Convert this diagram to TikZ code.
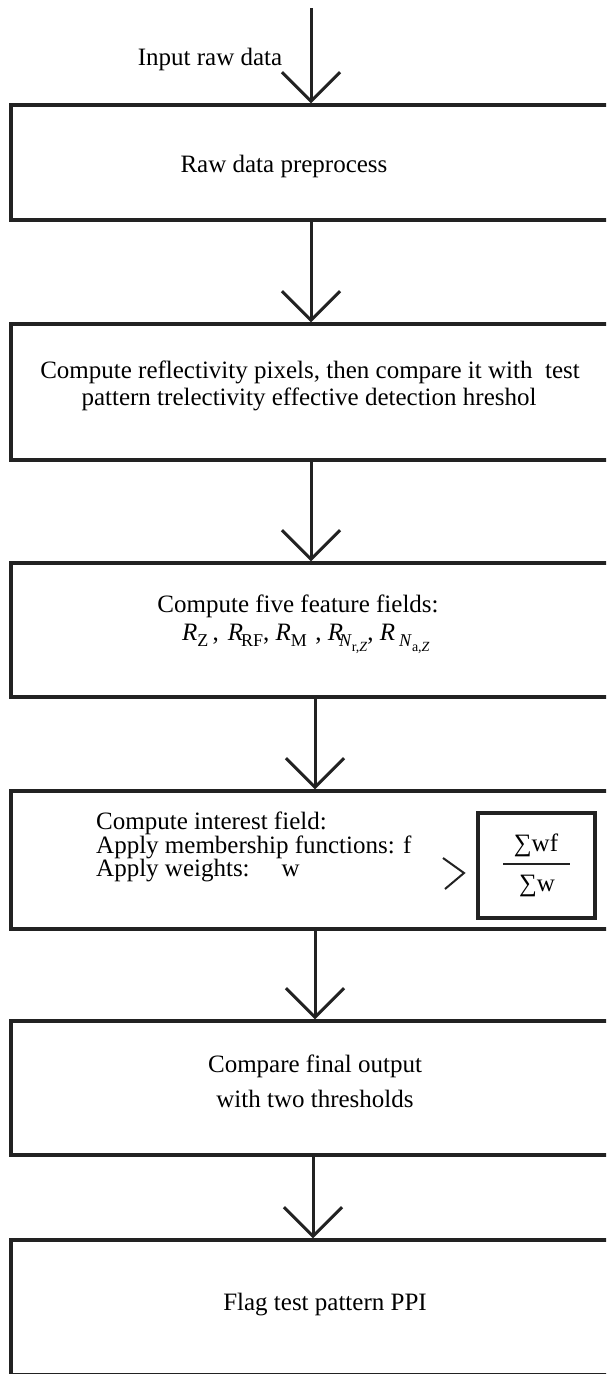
\documentclass[tikz,border=0pt]{standalone}
\usepackage{fontspec}
\setmainfont{Liberation Serif}
\usetikzlibrary{arrows.meta}
\definecolor{ln}{HTML}{222222}
\newcommand{\sbx}[1]{\raisebox{-6pt}{\fontsize{18}{18}\selectfont #1}}
\newcommand{\ssbx}[1]{\raisebox{-5pt}{\fontsize{14}{14}\selectfont #1}}
\tikzset{
  box/.style={draw=ln, line width=3.5pt, minimum width=600pt, inner sep=0pt},
  fracbox/.style={draw=ln, line width=3.5pt, minimum width=117pt, minimum height=105pt, inner sep=0pt},
  flow/.style={draw=ln, line width=3pt, -{Straight Barb[length=29pt,width=58pt]}},
  txt/.style={font=\fontsize{25}{28}\selectfont, inner sep=0pt, anchor=base, text=black},
  thin/.style={draw=ln, line width=2pt},
}
\begin{document}
\begin{tikzpicture}[x=1pt,y=-1pt]
\useasboundingbox (0,0) rectangle (606,1374);
\clip (0,0) rectangle (606,1374);
% boxes
\node[box, minimum height=115pt] (b1) at (311,162.5) {};
\node[box, minimum height=136pt] (b2) at (311,392) {};
\node[box, minimum height=134pt] (b3) at (311,630) {};
\node[box, minimum height=138pt] (b4) at (311,860) {};
\node[box, minimum height=134pt] (b5) at (311,1088) {};
\node[box, minimum height=135pt] (b6) at (311,1307.5) {};
% connectors
\coordinate (start) at (311,8);
\draw[flow] (start) -- (b1.north);
\draw[flow] (b1.south) -- (b2.north);
\draw[flow] (b2.south) -- (b3.north);
\draw[flow] ([xshift=4pt]b3.south) -- ([xshift=4pt]b4.north);
\draw[flow] ([xshift=4pt]b4.south) -- ([xshift=4pt]b5.north);
\draw[flow] ([xshift=2pt]b5.south) -- ([xshift=2pt]b6.north);
% texts
\node[txt] (t0) at (210,65) {Input raw data};
\node[txt] (t1) at (284,172) {Raw data preprocess};
\node[txt] (t2a) at (310,378) {Compute reflectivity pixels, then compare it with\ \ test};
\node[txt] (t2b) at (309,405) {pattern trelectivity effective detection hreshol};
\node[txt] (t3a) at (298,612) {Compute five feature fields:};
\node[txt, anchor=base west] (t3b) at (182,640) {\textit{R}\sbx{Z}\,,\hspace{9pt}\textit{R}\hspace{-2pt}\sbx{RF}, \textit{R}\sbx{M}\,\,, \textit{R}\hspace{-4pt}\sbx{\textit{N}\ssbx{r,\textit{Z}}}, \textit{R}\hspace{4pt}\sbx{\textit{N}\ssbx{a,\textit{Z}}}};
\node[txt, anchor=base west] (t4a) at (96,829) {Compute interest field:};
\node[txt, anchor=base west] (t4b) at (96,853) {Apply membership functions: f};
\node[txt, anchor=base west] (t4c) at (96,876) {Apply weights:\hspace{32pt}w};
\node[fracbox] (fb) at (536.5,865.5) {};
\node[txt] (num) at (536,851) {∑wf};
\node[txt] (den) at (537,891) {∑w};
\draw[thin] (503,864) -- (570,864);
\draw[thin] (443,858) -- (464,873) -- (445,889);
\node[txt] (t5a) at (315,1072) {Compare final output};
\node[txt] (t5b) at (315,1107) {with two thresholds};
\node[txt] (t6) at (325,1310) {Flag test pattern PPI};
\end{tikzpicture}
\end{document}
